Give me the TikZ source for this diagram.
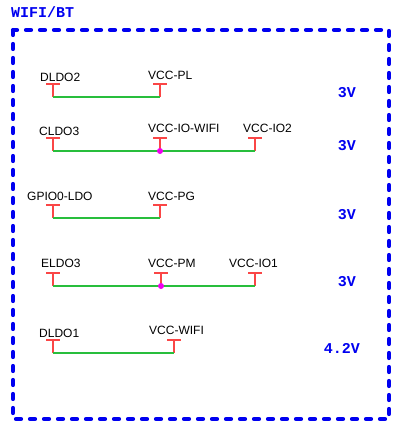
\documentclass[tikz,border=0pt]{standalone}
\usepackage{fontspec}
\setmainfont{Liberation Sans}
\setmonofont{Liberation Mono}
\usepackage{tikz}
\usetikzlibrary{calc}
\definecolor{boxblue}{RGB}{0,0,240}
\definecolor{pinred}{RGB}{250,70,70}
\definecolor{wiregreen}{RGB}{40,190,60}
\definecolor{junction}{RGB}{240,0,240}

% red T-shaped pin, named coordinate at the wire end
\newcommand{\tpin}[3]{%
  \coordinate (#1) at (#2,#3);
  \draw[pin] (#1) -- ++(0,13) coordinate (#1-top);
  \draw[pin] ([xshift=-7]#1-top) -- ([xshift=7]#1-top);
}

\begin{document}
\begin{tikzpicture}[x=1pt, y=1pt,
  pin/.style={draw=pinred, line width=1.4pt},
  wire/.style={draw=wiregreen, line width=1.4pt},
  lbl/.style={anchor=west, inner sep=0pt, font=\fontsize{12}{13}\selectfont},
  volt/.style={anchor=east, inner sep=0pt, text=boxblue, font=\ttfamily\bfseries\fontsize{15}{16}\selectfont},
  dot/.style={circle, fill=junction, inner sep=0pt, minimum size=6pt}]
  \useasboundingbox (0,0) rectangle (394,-421);

  % outer group
  \draw[boxblue, line width=4.2pt, line cap=round, dash pattern=on 5pt off 9pt] (13,-30) rectangle (389,-419);
  \node[volt, anchor=west] (title) at (11,-12) {WIFI/BT};

  % row 1
  \tpin{dldo2}{53}{-97}
  \tpin{vccpl}{160}{-97}
  \draw[wire] (dldo2) -- (vccpl);
  \node[lbl] (dldo2-lbl) at (40,-77) {DLDO2};
  \node[lbl] (vccpl-lbl) at (148,-75) {VCC-PL};
  \node[volt] (v1) at (356,-93) {3V};

  % row 2
  \tpin{cldo3}{53}{-151}
  \tpin{vcciowifi}{160}{-151}
  \tpin{vccio2}{255}{-151}
  \draw[wire] (cldo3) -- (vcciowifi) -- (vccio2);
  \node[dot] (j1) at (vcciowifi) {};
  \node[lbl] (cldo3-lbl) at (39,-131) {CLDO3};
  \node[lbl] (vcciowifi-lbl) at (148,-128) {VCC-IO-WIFI};
  \node[lbl] (vccio2-lbl) at (243,-128) {VCC-IO2};
  \node[volt] (v2) at (356,-146) {3V};

  % row 3
  \tpin{gpio0}{53}{-218}
  \tpin{vccpg}{160}{-218}
  \draw[wire] (gpio0) -- (vccpg);
  \node[lbl] (gpio0-lbl) at (27,-196) {GPIO0-LDO};
  \node[lbl] (vccpg-lbl) at (148,-196) {VCC-PG};
  \node[volt] (v3) at (356,-215) {3V};

  % row 4
  \tpin{eldo3}{53}{-286}
  \tpin{vccpm}{161}{-286}
  \tpin{vccio1}{255}{-286}
  \draw[wire] (eldo3) -- (vccpm) -- (vccio1);
  \node[dot] (j2) at (vccpm) {};
  \node[lbl] (eldo3-lbl) at (41,-263) {ELDO3};
  \node[lbl] (vccpm-lbl) at (148,-263) {VCC-PM};
  \node[lbl] (vccio1-lbl) at (229,-263) {VCC-IO1};
  \node[volt] (v4) at (356,-282) {3V};

  % row 5
  \tpin{dldo1}{53}{-353}
  \tpin{vccwifi}{174}{-353}
  \draw[wire] (dldo1) -- (vccwifi);
  \node[lbl] (dldo1-lbl) at (39,-333) {DLDO1};
  \node[lbl] (vccwifi-lbl) at (149,-330) {VCC-WIFI};
  \node[volt] (v5) at (360,-348) {4.2V};
\end{tikzpicture}
\end{document}
